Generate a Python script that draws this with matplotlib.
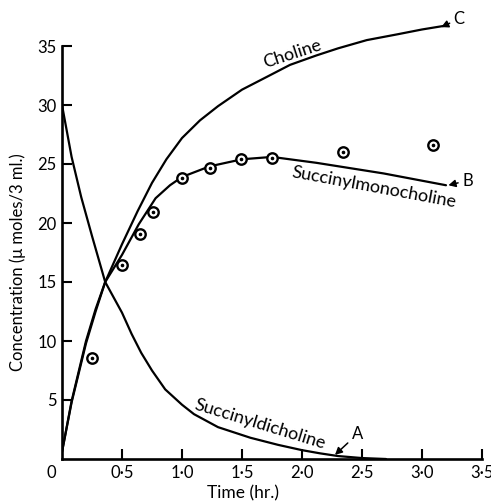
import matplotlib
matplotlib.use("Agg")
import matplotlib.pyplot as plt

plt.rcParams["font.family"] = ["Lato", "DejaVu Sans"]

# values (time in hr, concentration in umoles/3 ml)
dichol_t = [0.0, 0.04, 0.08, 0.16, 0.25, 0.36, 0.5, 0.58, 0.66, 0.75, 0.86, 1.0, 1.1, 1.3,
            1.57, 1.8, 2.0, 2.15, 2.3, 2.5, 2.7]
dichol_c = [30.0, 27.8, 25.6, 22.2, 18.9, 15.0, 12.4, 10.6, 9.0, 7.5, 5.9, 4.6, 3.8, 2.7,
            1.8, 1.2, 0.75, 0.48, 0.25, 0.08, 0.0]

chol_t = [0.0, 0.08, 0.2, 0.28, 0.36, 0.5, 0.63, 0.75, 0.87, 1.0, 1.15, 1.3, 1.5, 1.71,
          1.9, 2.12, 2.3, 2.54, 2.8, 3.0, 3.18]
chol_c = [0.6, 4.9, 10.0, 12.7, 15.0, 18.2, 21.0, 23.4, 25.4, 27.2, 28.7, 29.9, 31.3, 32.4,
          33.4, 34.2, 34.8, 35.5, 36.0, 36.4, 36.7]

mono_t = [0.0, 0.08, 0.2, 0.28, 0.36, 0.5, 0.64, 0.78, 0.9, 1.0, 1.23, 1.5, 1.75, 2.12,
          2.68, 3.2]
mono_c = [0.6, 4.8, 9.8, 12.5, 15.0, 17.3, 19.9, 22.1, 23.2, 23.9, 24.8, 25.4, 25.6, 25.1,
          24.2, 23.2]

obs_t = [0.25, 0.5, 0.65, 0.76, 1.0, 1.23, 1.49, 1.75, 2.34, 3.09]
obs_c = [8.6, 16.4, 19.1, 20.9, 23.8, 24.7, 25.4, 25.5, 26.0, 26.6]

xticks = [0.5, 1.0, 1.5, 2.0, 2.5, 3.0, 3.5]
xtick_labels = ["0·5", "1·0", "1·5", "2·0", "2·5", "3·0", "3·5"]
yticks = [5, 10, 15, 20, 25, 30, 35]

fig = plt.figure(figsize=(4.91, 5.04), dpi=100)
ax = fig.add_axes([62 / 491, 45 / 504, 420 / 491, 448.4 / 504])

lw = 1.6
ax.plot(dichol_t, dichol_c, color="black", lw=lw, solid_capstyle="round")
ax.plot(chol_t, chol_c, color="black", lw=lw, solid_capstyle="round")
ax.plot(mono_t, mono_c, color="black", lw=lw, solid_capstyle="round")
ax.plot(obs_t, obs_c, ls="none", marker="o", ms=7.5, mfc="white", mec="black", mew=1.7)
ax.plot(obs_t, obs_c, ls="none", marker="o", ms=1.6, mfc="black", mec="black")

ax.set_xlim(0, 3.5)
ax.set_ylim(0, 38)
ax.set_xticks(xticks)
ax.set_xticklabels(xtick_labels)
ax.set_yticks(yticks)
ax.tick_params(direction="in", length=7, width=1.5, labelsize=12, pad=4)

for side in ("top", "right"):
    ax.spines[side].set_visible(False)
ax.spines["left"].set_bounds(0, 35)
ax.spines["left"].set_linewidth(1.9)
ax.spines["bottom"].set_linewidth(1.9)

ax.annotate("0", xy=(0, 0), xytext=(-7.5, -4), textcoords="offset points",
            ha="center", va="top", fontsize=12)

fig.text(18 / 491, 1 - 262 / 504, "Concentration (μ moles/3 ml.)", rotation=90,
         ha="center", va="center", fontsize=12)
fig.text(243 / 491, 1 - 493 / 504, "Time (hr.)", ha="center", va="center", fontsize=12.5)

# curve names
ax.text(1.92, 34.3, "Choline", rotation=18, ha="center", va="center", fontsize=13)
ax.text(2.6, 23.0, "Succinylmonocholine", rotation=-10.5, ha="center", va="center",
        fontsize=13)
ax.text(1.65, 2.9, "Succinyldicholine", rotation=-17, ha="center", va="center",
        fontsize=13)

arrow = dict(arrowstyle="-|>,head_length=0.35,head_width=0.18", color="black", lw=1.1,
             shrinkA=1, shrinkB=0)
ax.annotate("A", xy=(2.275, 0.35), xytext=(2.46, 2.1), ha="center", va="center",
            fontsize=12, arrowprops=arrow, annotation_clip=False)
ax.annotate("B", xy=(3.22, 23.2), xytext=(3.38, 23.6), ha="center", va="center",
            fontsize=12, arrowprops=arrow, annotation_clip=False)
ax.annotate("C", xy=(3.16, 36.6), xytext=(3.31, 37.3), ha="center", va="center",
            fontsize=12, arrowprops=arrow, annotation_clip=False)

fig.savefig("out.png", dpi=100)
